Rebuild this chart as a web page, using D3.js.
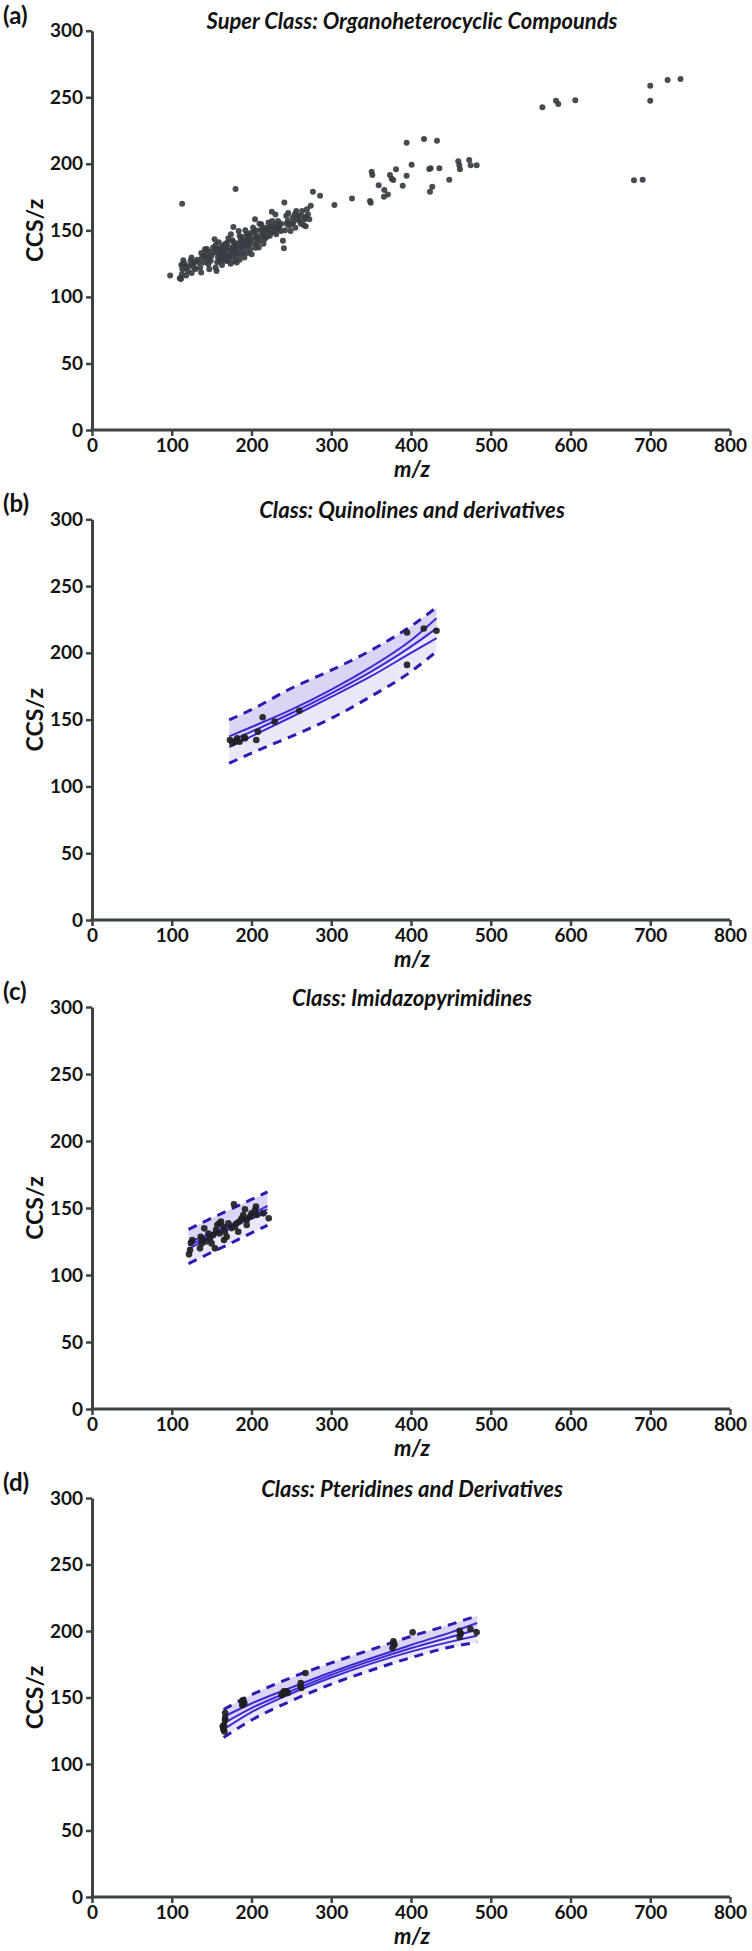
<!DOCTYPE html>
<html><head><meta charset="utf-8">
<script src="https://cdn.jsdelivr.net/npm/d3@7/dist/d3.min.js"></script>
<style>
body{margin:0;background:#fff}
svg{display:block}
text{font-family:Lato,'Open Sans',sans-serif}
</style>
</head><body>
<svg id="chart" width="752" height="1951"></svg>
<script>
// ---------- shared axes ----------
const xTicks = [0,100,200,300,400,500,600,700,800];
const yTicks = [0,50,100,150,200,250,300];
const panelTags = ["(a)","(b)","(c)","(d)"];
const panelTitles = [
  "Super Class: Organoheterocyclic Compounds",
  "Class: Quinolines and derivatives",
  "Class: Imidazopyrimidines",
  "Class: Pteridines and Derivatives"
];
const xLabel = "m/z";
const yLabel = "CCS/z";

// ---------- panel (a): m/z , CCS/z ----------
const aPoints = [
 [98,116],[111,114],[113,170],[180,181],[225.5,164],[277,179],[286,176],[304,169],[326,174],
 [111.5,113.5],[112.7,117],[113.3,120.8],[113.9,124.5],[114.5,127.6],
 [120,119.5],[121.8,123.3],[123.6,127.1],[124.8,129.6],[126,124.5],[127.8,122],
 [133.8,125.8],[135.7,122],[136.9,118.3],[138.1,129.6],[139.9,125.8],
 [141.7,135.8],[142.9,132.1],[144.1,128.3],[145.9,124.5],[147.1,120.8],[148.9,127.1],
 [151.9,137.1],[153.7,133.3],[154.9,122],[156.2,119.5],[158,129.6],[159.8,135.8],[161,132.1],
 [153.7,143.3],
 [164,138.3],[165.8,134.6],[167,130.8],[168.2,127.1],[170,140.8],[171.8,137.1],
 [174.2,147.1],[176,142.6],[177.3,152.6],[177.9,138.3],[179,134.1],[180.3,130.1],[181.5,125.8],
 [183.9,149.6],[185.1,145.8],[186.3,142.1],[188.1,137.6],[189.9,133.3],[191.1,129.6],
 [192.3,150.1],[194.1,147.1],[195.9,143.3],[197.1,139.6],[198.4,135.8],[200.2,132.1],
 [202,152.1],[203.2,148.4],[204.4,158.4],[206.2,144.1],[208,140.8],[209.2,137.1],
 [212.2,154.6],[214,150.9],[215.2,147.1],[216.4,143.3],[218.2,149.6],
 [221.3,155.9],[222.5,152.6],[224.3,148.4],[226.1,157.1],[227.3,152.1],
 [230.3,154.6],[232.1,150.9],[233.3,157.1],[235.1,153.4],[236.9,149.6],
 [239.4,142.1],[240.6,136.6],[241.2,171],
 [243.6,160.9],[245.4,157.1],[247.2,153.4],[249,149.6],
 [251.4,159.6],[252.6,155.9],[254.4,162.1],[256.2,164.6],[257.4,158.4],
 [260.5,157.1],[262.3,160.9],[263.5,164.6],[265.3,154.1],[266.5,158.4],
 [269.5,165.9],[270.7,162.1],[272.5,158.4],[274.3,168.4],
 [160,127],[162,130],[163,134],[165,128],[166,132],[168,136],[170,131],[172,129],[173,133],
 [175,135],[176,131],[178,127],[178,141],[180,137],[182,133],[183,140],[185,136],[186,132],
 [187,139],[188,145],[190,141],[192,137],[193,143],[195,139],[196,146],[198,142],[199,148],
 [201,144],[203,140],[205,150],[207,146],[210,143],[211,150],[213,146],[217,152],[219,145],
 [220,150],[223,146],[225,153],[228,149],[231,147],[234,152],[237,155],[242,150],[244,155],
 [250,155],[255,152],[258,161],[262,155],[268,160],[150,131],[148,134],[146,130],[144,136],
 [140,131],[137,133],[132,128],[130,121],[128,126],[125,118],[118,116],[117,122],[116,125],
 [110,114],[112,124],[155,139],[157,126],[159,141],[163,124],[167,140],[171,144],[174,125],
 [158,133],[170,127],[185,128],[195,133],[205,137],[215,140],[210,155],[230,162],[246,163],
 [268,153],[156,136],[162,137],[168,130],
 [348.6,172],[349.5,170.8],[350.7,194],[351.5,191.6],[359.5,183.8],[366.5,180.3],[366.1,175.3],
 [371,177],[373.6,191.6],[375.8,188.8],[377.8,187.8],[381.2,195.9],[389.6,183.6],[394.5,215.8],
 [394.5,191],[400.8,199.3],[416.3,218.6],[422.9,196.1],[424.6,196.6],[426.7,182.8],[423.8,179],
 [432.6,217.3],[435.6,196.6],[448,188],[459.3,202],[460.6,199],[461.4,195.9],[473,202.8],
 [474.8,199],[482.3,199],[564.7,242.4],[581.8,247.4],[584.7,244.9],[606,247.7],[700,258.7],
 [700,247.4],[721.8,263],[738,263.7],[679.6,187.6],[690.5,188]
];

// ---------- panel (b) ----------
const bPoints = [[173,134.8],[176,132.3],[179,133.5],[182,136],[185,133.5],[191,137],[192,136],
 [206,134.8],[208,141],[214,151.8],[229,148.5],[260,156.7],[395,215.2],[395,191],[416,218.2],[432,216.6]];
const bCurveMz = [172,200,250,300,350,400,432];
const bFit  = [133.5,141,154.8,169.7,186,204.7,218.4];
const bCiUp = [137.5,144.5,157.5,172.5,189.5,209.5,226];
const bCiLo = [129.5,137.5,152,167,182.5,200,211];
const bPiUp = [149.8,157.5,173.5,187,202,220,234];
const bPiLo = [117.3,125,137.5,151,167.5,186,201];

// ---------- panel (c) ----------
const cPoints = [[121.6,115.4],[122.9,118.7],[124.1,124.1],[125.8,126.1],[135.4,119.9],[137.5,123.6],
 [138.8,126.1],[136.3,128.6],[140.8,134.8],[148,127.4],[150,123.6],[152.1,129.9],[154.2,119.9],
 [155.5,133.6],[157.1,137.3],[159.6,138.6],[161.8,139.8],[164.7,136],[166.8,132.3],[168.9,128.6],
 [165.5,126.1],[171,138.6],[178,152.8],[179.3,136],[181.4,138.6],[183.4,132.3],[187.7,142.3],
 [189.7,144.8],[191.8,149],[194,137.3],[194,141.1],[198.1,143.5],[204.4,148.5],[206.5,144.8],
 [205.6,151],[221.6,142.3],[214.8,146],[146,131],[143,125],[160,131],[175,135],[185,140],[200,146]];
const cCurveMz = [121,145,170,195,220];
const cFit  = [122,128.5,135.5,142.5,149];
const cCiUp = [124.5,130,136.5,144,151.5];
const cCiLo = [119.5,127,134.5,141,146.5];
const cPiUp = [134,141,148,155,162];
const cPiLo = [108.5,115.5,122.5,130,137];

// ---------- panel (d) ----------
const dPoints = [[164,128.3],[165,125.8],[166,124.5],[167,138.3],[167,134.6],[165.5,129.3],[166.8,133.1],
 [164.7,126.8],[188,147.1],[189,144.6],[191,145.9],[188.5,144.4],[189.7,148.1],[238,152.1],[240.6,154.6],
 [244,154.6],[245.4,153.4],[237.8,151.9],[242,153.6],[261.7,160.9],[262.3,157.1],[261.7,158.1],
 [267.7,168.4],[378,192.2],[379.3,189.7],[376.8,187.2],[377.8,190.7],[402,199],[461,200.2],
 [462.4,198],[461,195.5],[474.5,201.5],[482.3,199]];
const dCurveMz = [165,200,250,300,350,400,450,483];
const dFit  = [130.5,142,155,167,177.5,187,195.5,201];
const dCiUp = [135.5,145.5,157.5,169,179.5,189.5,199,206];
const dCiLo = [126,139,153,165,175.5,184.5,192,196.5];
const dPiUp = [141,152,165,176,186,196,205,211.5];
const dPiLo = [120,133,147.5,160,170.5,180,188,191.5];

// ---------- layout ----------
const svg = d3.select("#chart");
const xL = 92, xR = 730;
const panelTops = [30.7, 519.3, 1007, 1498];
const panelBottoms = [430, 920, 1409, 1897];

const axisColor = "#3c4347";
const lineBlue = "#3b2bd4";
const dashBlue = "#2a1cb3";

function curveSet(mz, fit, ciUp, ciLo, piUp, piLo){
  return mz.map((m,i)=>({m, fit:fit[i], ciUp:ciUp[i], ciLo:ciLo[i], piUp:piUp[i], piLo:piLo[i]}));
}
const panels = [
  {points:aPoints, curve:null, r:3, fill:"#363d42"},
  {points:bPoints, curve:curveSet(bCurveMz,bFit,bCiUp,bCiLo,bPiUp,bPiLo), r:3.3, fill:"#1d1f21"},
  {points:cPoints, curve:curveSet(cCurveMz,cFit,cCiUp,cCiLo,cPiUp,cPiLo), r:3.3, fill:"#1d1f21"},
  {points:dPoints, curve:curveSet(dCurveMz,dFit,dCiUp,dCiLo,dPiUp,dPiLo), r:3.3, fill:"#1d1f21"}
];

panels.forEach((p, i) => {
  const top = panelTops[i], bot = panelBottoms[i];
  const x = d3.scaleLinear().domain([0,800]).range([xL,xR]);
  const y = d3.scaleLinear().domain([0,300]).range([bot, top]);
  const g = svg.append("g");

  // panel tag
  g.append("text").attr("x",3).attr("y",top-7)
    .attr("font-size",24).attr("font-weight",700).attr("fill","#111").text(panelTags[i]);

  // title (scaled to reference width)
  const titleW = [411,306,240,302][i];
  const t = g.append("text").attr("x",412).attr("y",top-1.5).attr("text-anchor","middle")
    .attr("font-size",18).attr("font-weight",700).attr("font-style","italic")
    .attr("fill","#111").text(panelTitles[i]);
  const w = t.node().getComputedTextLength();
  t.attr("font-size", 18*titleW/w);

  // bands & curves
  if (p.curve){
    const c = p.curve;
    const bandLo = d3.area().x(d=>x(d.m)).y0(d=>y(d.piLo)).y1(d=>y(d.fit)).curve(d3.curveMonotoneX);
    const bandHi = d3.area().x(d=>x(d.m)).y0(d=>y(d.fit)).y1(d=>y(d.piUp)).curve(d3.curveMonotoneX);
    g.append("path").datum(c).attr("d",bandLo).attr("fill","#ebe7f9");
    g.append("path").datum(c).attr("d",bandHi).attr("fill","#dcd4f4");
    const ln = key => d3.line().x(d=>x(d.m)).y(d=>y(d[key])).curve(d3.curveMonotoneX);
    ["ciUp","fit","ciLo"].forEach(k=>{
      g.append("path").datum(c).attr("d",ln(k)).attr("fill","none")
        .attr("stroke",lineBlue).attr("stroke-width",2);
    });
    ["piUp","piLo"].forEach(k=>{
      g.append("path").datum(c).attr("d",ln(k)).attr("fill","none")
        .attr("stroke",dashBlue).attr("stroke-width",3).attr("stroke-dasharray","9,7");
    });
  }

  // points
  g.append("g").selectAll("circle").data(p.points).join("circle")
    .attr("cx",d=>x(d[0])).attr("cy",d=>y(d[1])).attr("r",p.r)
    .attr("fill",p.fill).attr("fill-opacity",0.92);

  // axes
  const xa = g.append("g").attr("transform",`translate(0,${bot})`)
    .call(d3.axisBottom(x).tickValues(xTicks).tickSize(6).tickSizeOuter(0).tickPadding(3));
  const ya = g.append("g").attr("transform",`translate(${xL},0)`)
    .call(d3.axisLeft(y).tickValues(yTicks).tickSize(6).tickSizeOuter(0).tickPadding(3));
  [xa,ya].forEach(a=>{
    a.select(".domain").attr("stroke",axisColor).attr("stroke-width",3);
    a.selectAll(".tick line").attr("stroke",axisColor).attr("stroke-width",2.5);
    a.selectAll(".tick text").attr("font-family","Lato,'Open Sans',sans-serif")
      .attr("font-size",19).attr("font-weight",700).attr("fill","#141414");
  });
  xa.select(".domain").attr("d",`M${xL-1.5},0H${xR}`);

  // axis titles
  g.append("text").attr("x",412).attr("y",bot+47).attr("text-anchor","middle")
    .attr("font-size",22).attr("font-weight",700).attr("font-style","italic")
    .attr("fill","#111").text(xLabel);
  g.append("text").attr("transform",`translate(43,${(top+bot)/2}) rotate(-90)`)
    .attr("text-anchor","middle").attr("font-size",23).attr("font-weight",700)
    .attr("fill","#111").text(yLabel);
});
</script>
</body></html>
